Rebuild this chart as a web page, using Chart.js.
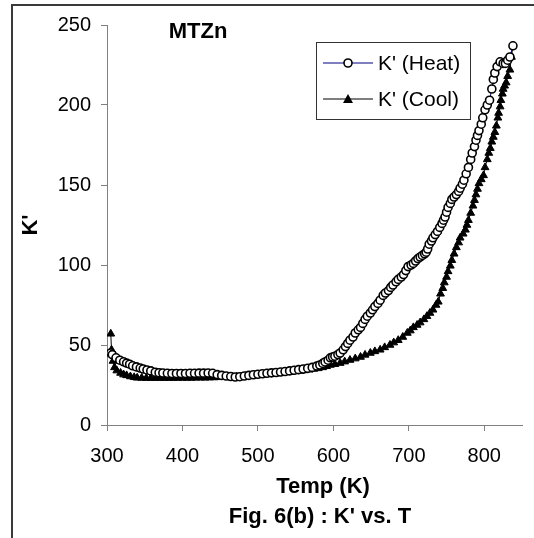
<!DOCTYPE html>
<html>
<head>
<meta charset="utf-8">
<script src="https://cdn.jsdelivr.net/npm/chart.js@4/dist/chart.umd.min.js"></script>
<style>
  html, body { margin: 0; padding: 0; background: #fff; }
  #wrap { width: 534px; height: 538px; }
</style>
</head>
<body>
<div id="wrap"><canvas id="chart" width="534" height="538"></canvas></div>
<script>
// K' heating run
const heatTemp = [305,307,312,317,322,326,330,334,339,344,348,353,358,364,369,374,380,386,392,398,
  404,410,416,422,428,434,440,446,452,458,464,470,476,482,488,494,500,506,512,518,
  524,530,536,542,548,554,560,566,572,578,582,586,589,593,596,599,602,606,609,613,
  616,619,622,626,629,633,636,639,642,645,649,652,655,659,662,666,669,673,676,679,
  683,686,690,693,696,699,703,706,709,712,715,718,721,723,725,727,730,732,735,738,
  741,744,746,748,750,752,755,757,760,763,766,768,771,773,776,779,782,784,787,789,
  791,793,796,798,801,804,807,810,812,814,817,821,825,828,831,834,838];
const heatK = [45,44,42,40.5,39.5,38.7,38,37,36.3,35.6,35,34.4,33.8,33,32.7,32.5,32.3,32.2,32.2,32.2,
  32.2,32.3,32.3,32.4,32.4,32.5,32.3,31.5,31,30.6,30.3,30,30.2,30.6,31,31.4,31.7,32,32.3,32.6,
  32.8,33.1,33.4,33.8,34.2,34.6,35,35.5,36,36.8,37.5,38.5,39.4,40.5,42,42.5,43,44,45,47,
  49,51,53,55,57.5,59.5,61,63.5,66,68,70,72,74,76,78,81,82.5,84,86,87.5,
  89.5,91,92.5,94,96.5,99,100,101,102.5,104,105,106,107,108,110,113,115,117,119,121,
  123.5,126,128,130,133,136,138.5,141,142.5,144,146,148,150.5,153,157,161,166,170,174,178,
  181,184,188,192,197,200,203,210,216,220,224,227,226,226,228,230,237];

// K' cooling run
const coolTemp = [305,306,308,310,313,318,322,326,331,336,340,346,352,358,364,370,376,382,388,394,
  400,406,412,418,424,430,436,442,448,454,460,466,472,478,484,490,496,502,508,514,
  520,526,532,538,544,550,556,562,568,574,580,586,591,596,602,609,615,622,629,636,
  642,649,655,662,668,675,680,686,692,698,702,706,711,715,720,724,728,732,736,739,
  742,745,747,750,752,755,757,760,763,766,768,772,775,777,779,782,785,787,789,791,
  793,796,799,801,804,806,808,810,812,814,816,818,819,821,822,824,825,827,829,831,
  834,836,838];
const coolK = [57,47,40,36,34,32.5,31.5,31,30.3,29.8,29.5,29.4,29.3,29.3,29.3,29.3,29.3,29.3,29.3,29.4,
  29.4,29.4,29.4,29.5,29.5,29.5,29.6,29.7,29.8,29.9,30,30,30.1,30.3,30.5,30.7,31,31.2,31.5,31.8,
  32,32.3,32.6,32.9,33.2,33.5,33.8,34.1,34.5,35,35.4,36,36.7,37.5,38,38.7,39.6,40.6,41.5,42.5,
  43.8,45,46,47,48.5,50,51.5,53,55,57.5,59,61,62.5,64,66,68,70,72,75,77,
  82,85.5,89,92.5,96,99.5,103,107,111,114,117,119.5,122,125,128,132.5,137,140.5,144,147.5,
  151,153.5,156,161,166,170,173,177,180,183,187,192,195,199,203,207,210,212,214,218,
  222,230,237];

const seriesLabels = ["K' (Heat)", "K' (Cool)"];
const xTitle = 'Temp (K)';
const yTitle = "K'";
const sampleName = 'MTZn';
const figCaption = "Fig. 6(b) : K' vs. T";

const FONT = "'Liberation Sans', Arial, sans-serif";

function pairs(xs, ys) {
  return xs.map((x, i) => ({ x: x, y: ys[i] }));
}

// outer frame, texts placed off-centre like the original, boxed legend
const decorations = {
  id: 'decorations',
  beforeDraw(chart) {
    const ctx = chart.ctx;
    ctx.save();
    ctx.fillStyle = '#3a3a3a';
    ctx.fillRect(11, 4, 540, 2);
    ctx.fillRect(11, 4, 2, 540);
    ctx.restore();
  },
  afterDraw(chart) {
    const ctx = chart.ctx;
    ctx.save();
    ctx.fillStyle = '#000';
    ctx.font = 'bold 22px ' + FONT;
    ctx.textAlign = 'center';
    ctx.textBaseline = 'middle';
    ctx.fillText(sampleName, 198, 32);
    ctx.fillText(xTitle, 323, 487);
    ctx.fillText(figCaption, 320, 517);

    // legend box
    const bx = 316, by = 42, bw = 154, bh = 77;
    ctx.fillStyle = '#fff';
    ctx.fillRect(bx, by, bw, bh);
    ctx.strokeStyle = '#333';
    ctx.lineWidth = 1;
    ctx.strokeRect(bx + 0.5, by + 0.5, bw, bh);

    const rows = [
      { y: 63, line: '#000080', label: seriesLabels[0], style: 'circle' },
      { y: 99, line: '#000', label: seriesLabels[1], style: 'triangle' },
    ];
    rows.forEach(r => {
      ctx.strokeStyle = r.line;
      ctx.lineWidth = 1.2;
      ctx.beginPath();
      ctx.moveTo(323, r.y);
      ctx.lineTo(373, r.y);
      ctx.stroke();
      if (r.style === 'circle') {
        ctx.beginPath();
        ctx.arc(348, r.y, 4, 0, Math.PI * 2);
        ctx.fillStyle = '#fff';
        ctx.fill();
        ctx.strokeStyle = '#000';
        ctx.lineWidth = 1.6;
        ctx.stroke();
      } else {
        ctx.beginPath();
        ctx.moveTo(348, r.y - 5);
        ctx.lineTo(353, r.y + 4);
        ctx.lineTo(343, r.y + 4);
        ctx.closePath();
        ctx.fillStyle = '#000';
        ctx.fill();
      }
      ctx.fillStyle = '#000';
      ctx.font = '21px ' + FONT;
      ctx.textAlign = 'left';
      ctx.textBaseline = 'middle';
      ctx.fillText(r.label, 378, r.y + 1);
    });
    ctx.restore();
  }
};

new Chart(document.getElementById('chart'), {
  type: 'line',
  data: {
    datasets: [{
      label: seriesLabels[0],
      data: pairs(heatTemp, heatK),
      borderColor: '#000080',
      borderWidth: 1,
      pointStyle: 'circle',
      pointRadius: 4,
      pointBorderWidth: 1.6,
      pointBorderColor: '#000',
      pointBackgroundColor: '#fff',
      fill: false,
    }, {
      label: seriesLabels[1],
      data: pairs(coolTemp, coolK),
      borderColor: '#000',
      borderWidth: 1,
      pointStyle: 'triangle',
      pointRadius: 4.5,
      pointBorderWidth: 1,
      pointBorderColor: '#000',
      pointBackgroundColor: '#000',
      fill: false,
    }],
  },
  options: {
    responsive: false,
    animation: false,
    layout: {
      padding: { left: 14, right: 12, top: 25, bottom: 0 },
    },
    elements: {
      line: { tension: 0 },
    },
    plugins: {
      legend: { display: false },
      tooltip: { enabled: false },
    },
    scales: {
      x: {
        type: 'linear',
        min: 300,
        max: 850,
        afterFit(s) { s.height = 113; },
        ticks: {
          stepSize: 100,
          includeBounds: false,
          color: '#000',
          padding: 13,
          font: { family: FONT, size: 20 },
        },
        grid: { drawOnChartArea: false, tickLength: 6, color: '#808080' },
        border: { color: '#808080' },
      },
      y: {
        min: 0,
        max: 250,
        afterFit(s) { s.width = 93; },
        ticks: {
          stepSize: 50,
          color: '#000',
          padding: 10,
          font: { family: FONT, size: 20 },
        },
        grid: { drawOnChartArea: false, tickLength: 6, color: '#808080' },
        border: { color: '#808080' },
        title: {
          display: true,
          text: yTitle,
          color: '#000',
          font: { family: FONT, size: 22, weight: 'bold' },
          padding: { top: 4, bottom: 0 },
        },
      },
    },
  },
  plugins: [decorations],
});
</script>
</body>
</html>
